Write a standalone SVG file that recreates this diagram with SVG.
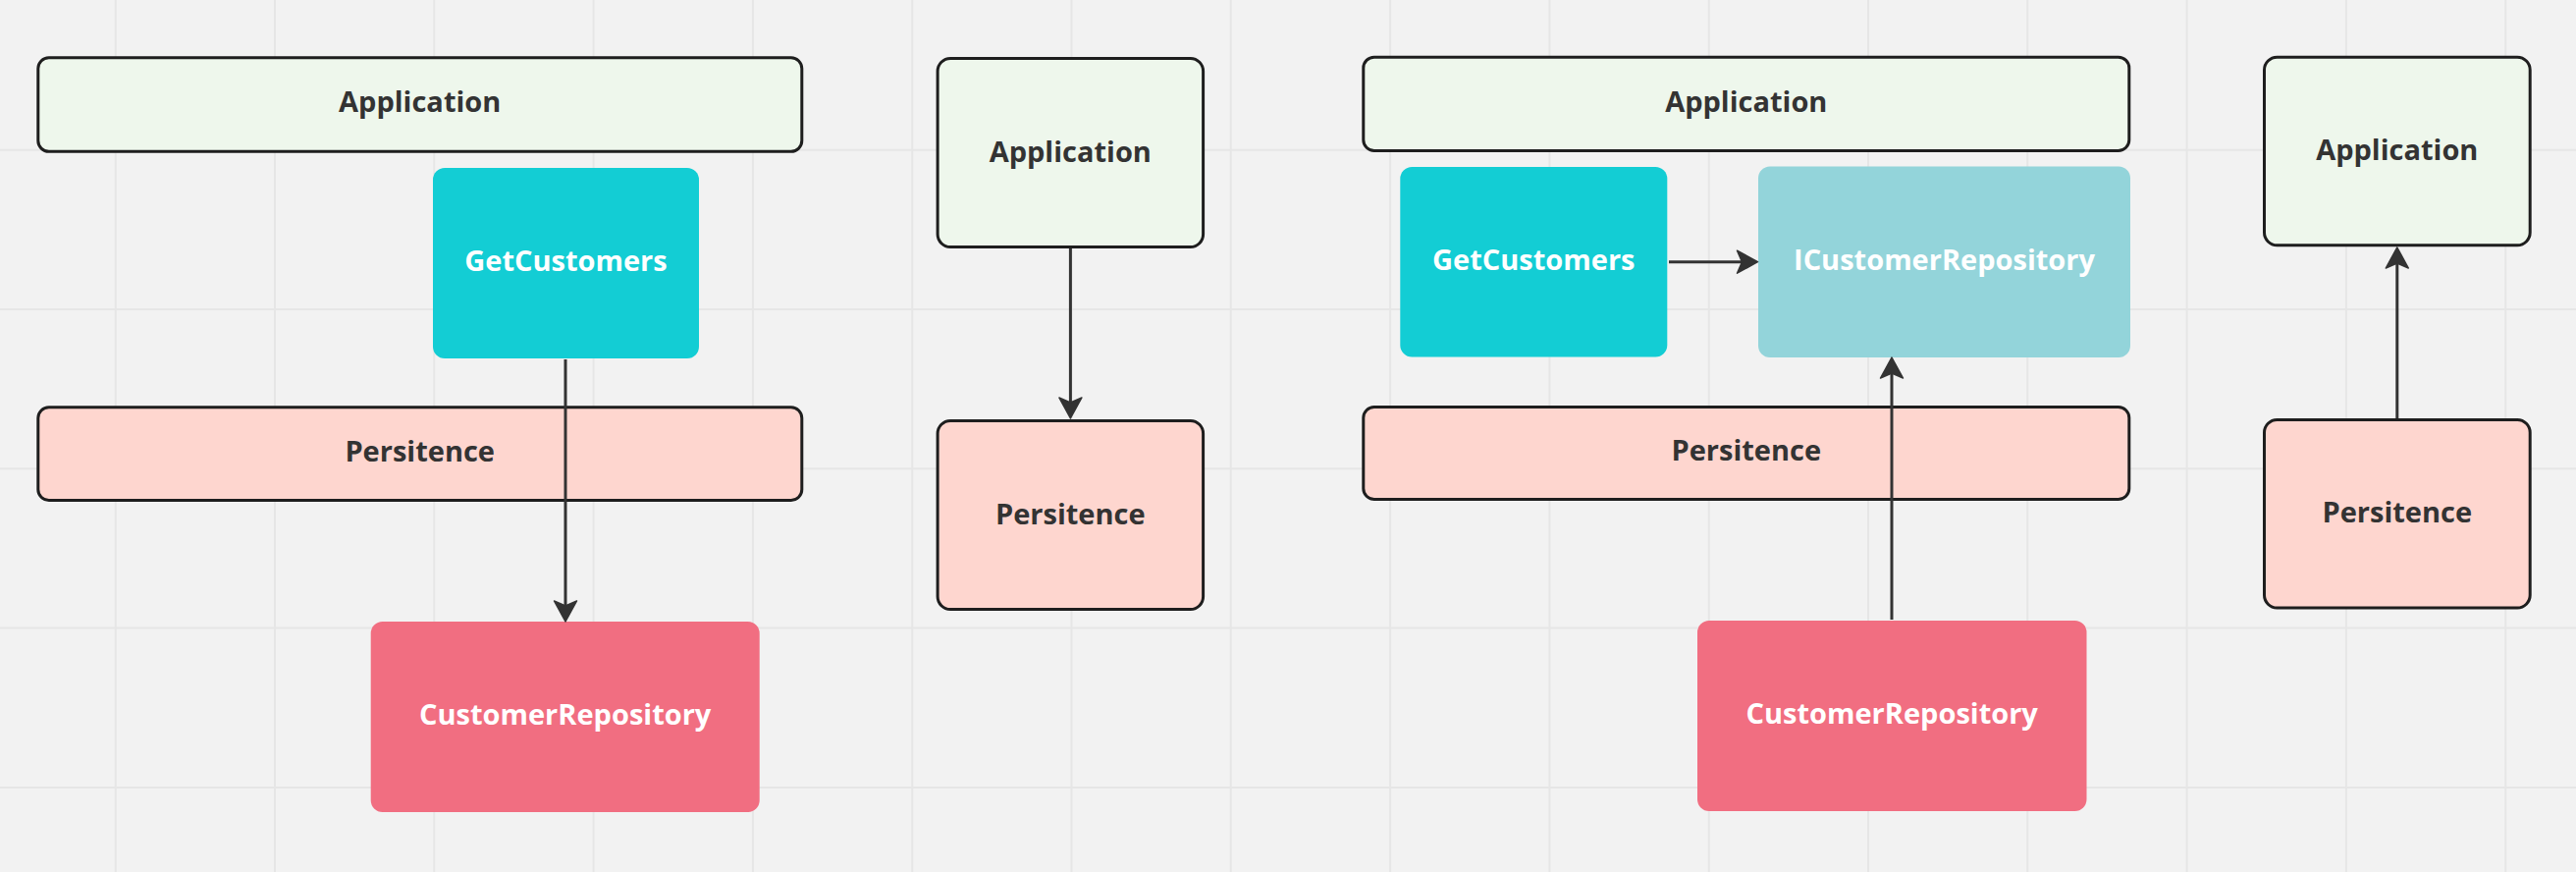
<svg xmlns="http://www.w3.org/2000/svg" width="2624" height="888" viewBox="0 0 2624 888">
  <style>
    .grid line { stroke: #E6E6E6; stroke-width: 2; }
    .layer { stroke: #1E1E1E; stroke-width: 3; }
    .app { fill: #EEF7EC; }
    .pers { fill: #FED6CF; }
    .uc { fill: #13CDD4; }
    .iface { fill: #93D4DA; }
    .repo { fill: #F16E81; }
    text { font-family: "Open Sans", "Noto Sans", "Liberation Sans", sans-serif; font-weight: 700; font-size: 29px; text-anchor: middle; }
    .dark { fill: #333333; }
    .light { fill: #FFFFFF; }
    .conn { stroke: #333333; stroke-width: 3; fill: none; }
  </style>
  <defs>
    <marker id="arrow" markerUnits="userSpaceOnUse" viewBox="-34 -13 36 26" markerWidth="36" markerHeight="26" refX="-12" refY="0" orient="auto" overflow="visible">
      <path d="M0,0 L-21,-11.5 L-16,0 L-21,11.5 Z" fill="#333333" stroke="#333333" stroke-width="1.5" stroke-linejoin="round"/>
    </marker>
  </defs>
  <rect x="0" y="0" width="2624" height="888" fill="#F2F2F2"/>
  <g class="grid">
    <line x1="117.7" y1="0" x2="117.7" y2="888"/>
    <line x1="280" y1="0" x2="280" y2="888"/>
    <line x1="442.3" y1="0" x2="442.3" y2="888"/>
    <line x1="604.6" y1="0" x2="604.6" y2="888"/>
    <line x1="766.9" y1="0" x2="766.9" y2="888"/>
    <line x1="929.2" y1="0" x2="929.2" y2="888"/>
    <line x1="1091.5" y1="0" x2="1091.5" y2="888"/>
    <line x1="1253.8" y1="0" x2="1253.8" y2="888"/>
    <line x1="1416.1" y1="0" x2="1416.1" y2="888"/>
    <line x1="1578.4" y1="0" x2="1578.4" y2="888"/>
    <line x1="1740.7" y1="0" x2="1740.7" y2="888"/>
    <line x1="1903" y1="0" x2="1903" y2="888"/>
    <line x1="2065.3" y1="0" x2="2065.3" y2="888"/>
    <line x1="2227.6" y1="0" x2="2227.6" y2="888"/>
    <line x1="2389.9" y1="0" x2="2389.9" y2="888"/>
    <line x1="2552.2" y1="0" x2="2552.2" y2="888"/>
    <line x1="0" y1="152.7" x2="2624" y2="152.7"/>
    <line x1="0" y1="315" x2="2624" y2="315"/>
    <line x1="0" y1="477.3" x2="2624" y2="477.3"/>
    <line x1="0" y1="639.6" x2="2624" y2="639.6"/>
    <line x1="0" y1="801.9" x2="2624" y2="801.9"/>
  </g>

  <g id="app1">
    <rect class="app layer" x="38.8" y="58.8" width="778" height="95.5" rx="11"/>
    <text class="dark" x="427.7" y="114">Application</text>
  </g>
  <g id="pers1">
    <rect class="pers layer" x="38.8" y="414.8" width="778" height="94.7" rx="11"/>
    <text class="dark" x="427.7" y="469.5">Persitence</text>
  </g>
  <g id="getcustomers1">
    <rect class="uc" x="441" y="171" width="271" height="194" rx="12"/>
    <text class="light" x="576.5" y="275.5">GetCustomers</text>
  </g>
  <g id="customerrepo1">
    <rect class="repo" x="377.7" y="633" width="396" height="194" rx="12"/>
    <text class="light" x="575.7" y="737.5">CustomerRepository</text>
  </g>

  <g id="app2">
    <rect class="app layer" x="955.1" y="59.5" width="270.5" height="192" rx="13"/>
    <text class="dark" x="1090.3" y="164.5">Application</text>
  </g>
  <g id="pers2">
    <rect class="pers layer" x="955.1" y="428.5" width="270.5" height="192" rx="13"/>
    <text class="dark" x="1090.3" y="533.5">Persitence</text>
  </g>

  <g id="app3">
    <rect class="app layer" x="1388.8" y="58.2" width="780" height="95.3" rx="11"/>
    <text class="dark" x="1778.8" y="113.5">Application</text>
  </g>
  <g id="pers3">
    <rect class="pers layer" x="1388.8" y="414.5" width="780" height="94" rx="11"/>
    <text class="dark" x="1778.8" y="469">Persitence</text>
  </g>
  <g id="getcustomers2">
    <rect class="uc" x="1426.3" y="170" width="272" height="193.5" rx="12"/>
    <text class="light" x="1562.3" y="274.5">GetCustomers</text>
  </g>
  <g id="icustomerrepo">
    <rect class="iface" x="1791" y="169.5" width="379" height="194.5" rx="12"/>
    <text class="light" x="1980.5" y="275">ICustomerRepository</text>
  </g>
  <g id="customerrepo2">
    <rect class="repo" x="1729" y="632" width="396.5" height="194" rx="12"/>
    <text class="light" x="1927.2" y="736.5">CustomerRepository</text>
  </g>

  <g id="app4">
    <rect class="app layer" x="2306.5" y="58.2" width="270.7" height="191.6" rx="13"/>
    <text class="dark" x="2441.8" y="163">Application</text>
  </g>
  <g id="pers4">
    <rect class="pers layer" x="2306.5" y="427.5" width="270.7" height="191.5" rx="13"/>
    <text class="dark" x="2441.8" y="532">Persitence</text>
  </g>

  <g id="connectors">
    <line class="conn" x1="576" y1="366" x2="576" y2="621" marker-end="url(#arrow)"/>
    <line class="conn" x1="1090.4" y1="253" x2="1090.4" y2="414" marker-end="url(#arrow)"/>
    <line class="conn" x1="1700" y1="266.7" x2="1778.5" y2="266.7" marker-end="url(#arrow)"/>
    <line class="conn" x1="1927" y1="631" x2="1927" y2="376" marker-end="url(#arrow)"/>
    <line class="conn" x1="2441.8" y1="426" x2="2441.8" y2="264" marker-end="url(#arrow)"/>
  </g>
</svg>
